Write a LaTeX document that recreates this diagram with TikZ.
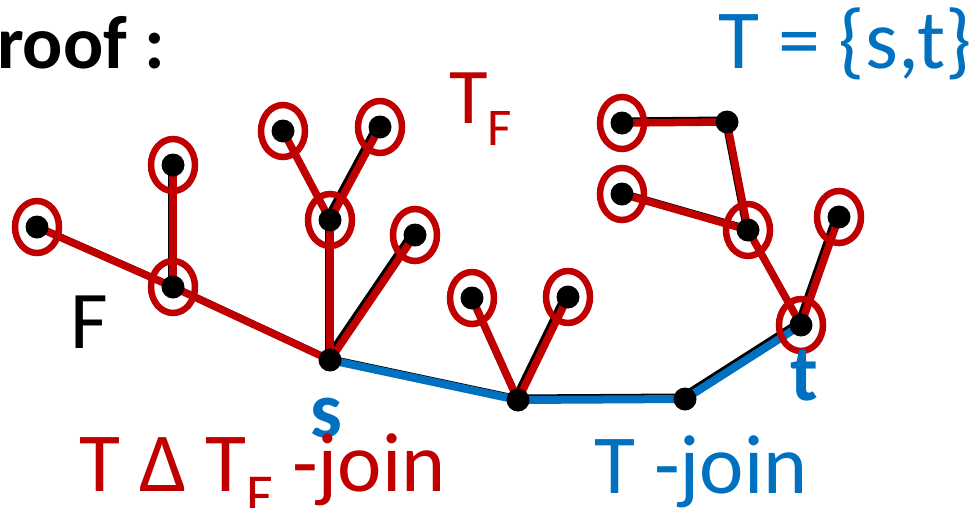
\documentclass[tikz,border=0pt]{standalone}
\usepackage{fontspec}
\setmainfont{Carlito}
\definecolor{jred}{HTML}{C00000}
\definecolor{jblue}{HTML}{0070C0}
\newcommand{\subF}[1]{\raisebox{-0.28em}{\fontsize{#1}{#1}\selectfont F}}
\begin{document}
\begin{tikzpicture}[x=1pt,y=-1pt,
  forest/.style={line width=4pt, black},
  fshift/.style={xshift=-3.5pt, yshift=3.5pt},
  redge/.style={line width=7.5pt, jred},
  bedge/.style={line width=8pt, jblue},
  ring/.style={draw=jred, line width=6.5pt},
  dot/.style={circle, fill=black, inner sep=0pt, minimum size=23pt},
  lbl/.style={inner sep=0pt, anchor=base west}]
\useasboundingbox (0,0) rectangle (975,507);

% vertex positions
\coordinate (a1) at (37,227);
\coordinate (a2) at (173,287);
\coordinate (a3) at (173,165);
\coordinate (s)  at (330,360);
\coordinate (b1) at (330,220);
\coordinate (b2) at (283,131);
\coordinate (b3) at (380,127);
\coordinate (b4) at (415,235);
\coordinate (m)  at (518,400);
\coordinate (m1) at (472,298);
\coordinate (m2) at (568,297);
\coordinate (n)  at (685,399);
\coordinate (t)  at (801,325);
\coordinate (c1) at (748,230);
\coordinate (c2) at (727,122);
\coordinate (c3) at (622,123);
\coordinate (c4) at (622,194);
\coordinate (c5) at (839,217);

% forest F (thin black, slightly offset up-left)
\foreach \u/\v in {a1/a2,a2/a3,a2/s,s/b1,b1/b2,b1/b3,s/b4,s/m,m/n,n/t,m/m1,m/m2,t/c1,t/c5,c1/c2,c2/c3,c1/c4}
  \draw[forest] ([fshift]\u) -- ([fshift]\v);

% T-join edges
\draw[bedge] (s) -- (m) -- (n) -- (t);

% symmetric-difference join edges
\foreach \u/\v in {a1/a2,a2/a3,a2/s,s/b1,b1/b2,b1/b3,s/b4,m/m1,m/m2,t/c1,t/c5,c1/c2,c2/c3,c1/c4}
  \draw[redge] (\u) -- (\v);

% odd vertices
\foreach \v in {a1,a2,a3,b1,b2,b3,b4,m1,m2,t,c1,c3,c4,c5}
  \draw[ring] (\v) ellipse (22pt and 26pt);

% vertices
\foreach \v in {a1,a2,a3,s,b1,b2,b3,b4,m,m1,m2,n,t,c1,c2,c3,c4,c5}
  \node[dot] (d\v) at (\v) {};

% labels
\node[inner sep=0pt, anchor=base east, font=\bfseries\fontsize{75}{75}\selectfont] (title) at (165,68) {Proof :};
\node[lbl, text=jblue, font=\fontsize{84}{84}\selectfont] (tset) at (718,68) {T = \{s,t\}};
\node[lbl, text=jred, font=\fontsize{79}{79}\selectfont] (tf) at (449,123) {T\subF{53}};
\node[lbl, font=\fontsize{82}{82}\selectfont] (F) at (70,348) {F};
\node[lbl, text=jblue, font=\bfseries\fontsize{80}{80}\selectfont] (sl) at (310,437) {s};
\node[lbl, text=jblue, font=\bfseries\fontsize{80}{80}\selectfont] (tl) at (790,400) {t};
\node[lbl, text=jred, font=\fontsize{84}{84}\selectfont] (tdj) at (79,491) {T Δ T\subF{58} -join};
\node[lbl, text=jblue, font=\fontsize{84}{84}\selectfont] (tj) at (594,493) {T -join};
\end{tikzpicture}
\end{document}
